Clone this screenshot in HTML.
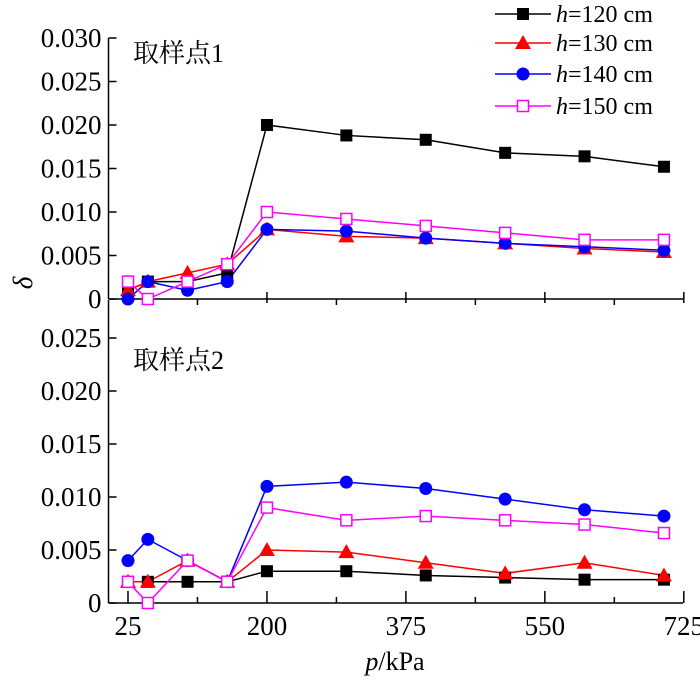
<!DOCTYPE html>
<html><head><meta charset="utf-8"><style>
html,body{margin:0;padding:0;background:#fff;}
svg{display:block;}
text{font-family:"Liberation Serif","Noto Serif CJK SC",serif;}
</style></head><body>
<svg id="chart" width="700" height="680" viewBox="0 0 700 680" font-family="Liberation Serif, Noto Serif CJK SC, serif"></svg>
<script>
const xValues=[25,50,100,150,200,300,400,500,600,700];
const top120=[0.001,0.002,0.002,0.003,0.020,0.0188,0.0183,0.0168,0.0164,0.0152];
const top130=[0.001,0.002,0.003,0.004,0.008,0.0072,0.007,0.0064,0.0058,0.0054];
const top140=[0,0.002,0.001,0.002,0.008,0.0078,0.007,0.0064,0.006,0.0056];
const top150=[0.002,0,0.002,0.004,0.010,0.0092,0.0084,0.0076,0.0068,0.0068];
const bot120=[0.002,0.002,0.002,0.002,0.003,0.003,0.0026,0.0024,0.0022,0.0022];
const bot130=[0.002,0.002,0.004,0.002,0.005,0.0048,0.0038,0.0028,0.0038,0.0026];
const bot140=[0.004,0.006,0.004,0.002,0.011,0.0114,0.0108,0.0098,0.0088,0.0082];
const bot150=[0.002,0,0.004,0.002,0.009,0.0078,0.0082,0.0078,0.0074,0.0066];
const seriesLabels=["120","130","140","150"];
const xTickLabels=[25,200,375,550,725];
const yTopTicks=["0","0.005","0.010","0.015","0.020","0.025","0.030"];
const yBotTicks=["0","0.005","0.010","0.015","0.020","0.025"];

const NS="http://www.w3.org/2000/svg";
const FF='"Liberation Serif","Noto Serif CJK SC",serif';
const svg=document.getElementById('chart');
function mk(tag,attrs,parent){const e=document.createElementNS(NS,tag);for(const k in attrs)e.setAttribute(k,attrs[k]);if(tag==='text')e.style.fontFamily=FF;(parent||svg).appendChild(e);return e;}
const X0=108.5, XR=683;
const xs=v=>128+(v-25)*0.794;
const yTop=v=>299-v*8700;
const yBot=v=>603-v*10600;
const colors=["#000","#f00","#00f","#f0f"];
const shapes=["square","triangle","circle","opensquare"];

function marker(g,shape,c,x,y){
  let m;
  if(shape==="square") m=mk('rect',{x:x-6,y:y-6,width:12,height:12,fill:c},g);
  else if(shape==="triangle") m=mk('polygon',{points:`${x},${y-8} ${x-8},${y+6} ${x+8},${y+6}`,fill:c},g);
  else if(shape==="circle") m=mk('circle',{cx:x,cy:y,r:6.5,fill:c},g);
  else m=mk('rect',{x:x-5.5,y:y-5.5,width:11,height:11,fill:'#fff',stroke:c,'stroke-width':1.5},g);
  
  
}

function panel(name,yf,ticks,series,label,labelY,axisTop,xAxisY,tickDir){
  const g=mk('g',{});
  
  
  const ya=mk('line',{x1:X0,y1:axisTop,x2:X0,y2:xAxisY,stroke:'#000','stroke-width':1.5},g);
  
  
  const xa=mk('line',{x1:X0,y1:xAxisY,x2:XR,y2:xAxisY,stroke:'#000','stroke-width':1.5},g);
  
  
  ticks.forEach((t,i)=>{
    const y=yf(i*0.005);
    mk('line',{x1:X0,y1:y,x2:X0+8,y2:y,stroke:'#000','stroke-width':1.5},g);
    const tx=mk('text',{x:X0-7,y:y+9,'text-anchor':'end','font-size':27},g);
    tx.textContent=t;
    
    
  });
  for(let v=25;v<=725;v+=87.5){
    const major=((v-25)/175)%1===0;
    const x=xs(v), len=major?12:6;
    if(tickDir<0) mk('line',{x1:x,y1:xAxisY,x2:x,y2:xAxisY-len,stroke:'#000','stroke-width':1.5},g);
    else mk('line',{x1:x,y1:xAxisY-(major?7:0),x2:x,y2:xAxisY+(major?4:6),stroke:'#000','stroke-width':1.5},g);
  }
  const lb=mk('text',{x:133,y:labelY,'font-size':26},g);
  lb.textContent=label;
  
  
  series.forEach((s,si)=>{
    const pts=xValues.map((v,i)=>xs(v)+','+yf(s[i])).join(' ');
    const pl=mk('polyline',{points:pts,fill:'none',stroke:colors[si],'stroke-width':1.5},g);
    
    
  });
  series.forEach((s,si)=>{
    xValues.forEach((v,i)=>marker(g,shapes[si],colors[si],xs(v),yf(s[i])));
  });
}
panel('panel-1',yTop,yTopTicks,[top120,top130,top140,top150],'取样点1',62,38,299,1);
panel('panel-2',yBot,yBotTicks,[bot120,bot130,bot140,bot150],'取样点2',369,300,603,-1);

xTickLabels.forEach(t=>{
  const tx=mk('text',{x:xs(t),y:635,'text-anchor':'middle','font-size':27});
  tx.textContent=t;
  
  
});
const xt=mk('text',{x:395,y:670,'text-anchor':'middle','font-size':26});
xt.innerHTML='<tspan font-style="italic">p</tspan>/kPa';


const yt=mk('text',{x:0,y:0,'text-anchor':'middle','font-size':27,'font-style':'italic',transform:'translate(32,283) rotate(-90)'});
yt.textContent='δ';



const leg=mk('g',{});


[14,43,74,106].forEach((y,i)=>{
  const e=mk('g',{},leg);
  
  
  mk('line',{x1:495,y1:y,x2:551,y2:y,stroke:colors[i],'stroke-width':1.5},e);
  marker(e,shapes[i],colors[i],523,y);
  const t=mk('text',{x:556,y:y+8,'font-size':24},e);
  t.innerHTML='<tspan font-style="italic">h</tspan>='+seriesLabels[i]+' cm';
});
</script>
</body></html>
